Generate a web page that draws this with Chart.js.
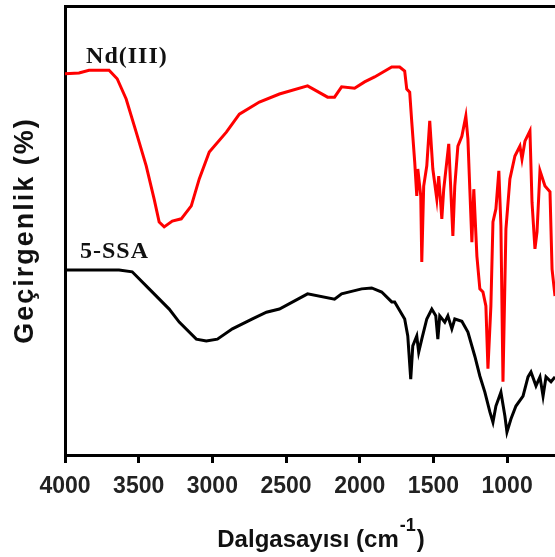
<!DOCTYPE html>
<html lang="tr">
<head>
<meta charset="UTF-8">
<title>FTIR - Nd(III) / 5-SSA</title>
<script src="https://cdn.jsdelivr.net/npm/chart.js"></script>
<style>
  body { margin: 0; background: #fff; }
  #wrap { width: 555px; height: 557px; }
</style>
</head>
<body>
<div id="wrap"><canvas id="ir-chart"></canvas></div>
<script>
// tick labels on the wavenumber axis
const xTicks = [4000, 3500, 3000, 2500, 2000, 1500, 1000];
const seriesNames = ['Nd(III)', '5-SSA'];

// Nd(III) complex - wavenumber (cm-1) and transmittance (arbitrary %)
const ndWave = [4000, 3905, 3837, 3701, 3646, 3585, 3517, 3449, 3395, 3361, 3327, 3272, 3211, 3143, 3089, 3021,
  2905, 2817, 2681, 2545, 2354, 2218, 2171, 2123, 2035, 1967, 1899, 1783, 1729, 1695, 1681, 1661, 1647, 1627,
  1613, 1606, 1586, 1579, 1566, 1545, 1525, 1504, 1477, 1464, 1443, 1430, 1396, 1368, 1355, 1334, 1307, 1280,
  1266, 1253, 1239, 1226, 1205, 1185, 1164, 1144, 1130, 1110, 1096, 1076, 1056, 1042, 1028, 1008, 981, 947,
  913, 899, 879, 845, 831, 811, 797, 777, 743, 709, 695, 675];
const ndTrans = [84.9, 85.1, 85.7, 85.7, 83.8, 79.3, 71.9, 64.4, 57.0, 51.9, 50.8, 52.1, 52.6, 55.5, 61.5, 67.5,
  71.9, 75.9, 78.6, 80.4, 82.2, 79.7, 79.7, 82.0, 81.7, 83.1, 84.2, 86.4, 86.4, 85.5, 81.5, 80.8, 74.2, 65.3,
  57.7, 63.7, 57.7, 43.0, 59.9, 64.4, 74.4, 63.7, 57.0, 62.1, 52.6, 59.2, 69.3, 48.8, 59.9, 68.8, 71.0, 75.5,
  70.4, 59.2, 47.4, 59.2, 44.3, 37.0, 36.3, 33.2, 19.2, 33.2, 51.9, 54.8, 63.3, 51.0, 16.3, 50.3, 61.5, 66.6,
  68.8, 65.9, 69.9, 72.2, 56.3, 45.9, 49.7, 63.3, 59.9, 58.6, 41.4, 35.4];

// 5-SSA ligand
const ssaWave = [4000, 3633, 3544, 3429, 3293, 3225, 3109, 3041, 2966, 2864, 2728, 2633, 2545, 2354, 2171, 2123,
  1987, 1919, 1851, 1783, 1763, 1695, 1674, 1654, 1640, 1613, 1600, 1579, 1545, 1511, 1484, 1470, 1457, 1423,
  1402, 1375, 1355, 1307, 1266, 1219, 1185, 1151, 1117, 1096, 1076, 1042, 1015, 1001, 974, 940, 892, 858, 838,
  804, 777, 756, 736, 702, 675];
const ssaTrans = [41.2, 41.2, 40.8, 37.0, 32.5, 29.6, 25.8, 25.4, 25.8, 28.1, 30.3, 31.8, 32.5, 35.9, 34.7, 35.9,
  37.0, 37.2, 36.3, 34.1, 34.1, 30.3, 26.5, 16.9, 24.3, 26.5, 22.9, 25.8, 30.3, 32.5, 31.0, 25.8, 31.0, 29.6,
  31.0, 28.1, 30.3, 29.8, 27.4, 22.0, 17.6, 14.0, 9.6, 7.3, 10.9, 14.0, 8.7, 5.1, 8.0, 10.9, 13.1, 17.4, 18.5,
  15.4, 17.4, 13.1, 17.4, 16.3, 17.4];

const sansFont = '"Liberation Sans", Arial, sans-serif';
const serifFont = '"Liberation Serif", "Times New Roman", serif';

const toPoints = (xs, ys) => xs.map((x, i) => ({ x: x, y: ys[i] }));

// axis titles and curve labels drawn by hand (superscript + letter spacing)
const textPlugin = {
  id: 'irTexts',
  afterDraw(chart) {
    const ctx = chart.ctx;
    const xs = chart.scales.x;
    const ys = chart.scales.y;
    const area = chart.chartArea;
    ctx.save();
    ctx.fillStyle = '#111';
    ctx.textAlign = 'left';
    ctx.textBaseline = 'alphabetic';

    // curve labels
    ctx.font = 'bold 24px ' + serifFont;
    ctx.letterSpacing = '1px';
    ctx.fillText(seriesNames[0], xs.getPixelForValue(3857), ys.getPixelForValue(87.4));
    ctx.fillText(seriesNames[1], xs.getPixelForValue(3898), ys.getPixelForValue(43.9));

    // y title
    ctx.save();
    ctx.translate(33, (area.top + area.bottom) / 2);
    ctx.rotate(-Math.PI / 2);
    ctx.font = 'bold 27px ' + sansFont;
    ctx.letterSpacing = '2px';
    ctx.textAlign = 'center';
    ctx.fillText('Geçirgenlik (%)', 0, 0);
    ctx.restore();

    // x title with superscript -1
    ctx.letterSpacing = '0px';
    const main = 'Dalgasayısı (cm';
    const sup = '-1';
    const close = ')';
    ctx.font = 'bold 24px ' + sansFont;
    const wMain = ctx.measureText(main).width;
    const wClose = ctx.measureText(close).width;
    ctx.font = 'bold 18px ' + sansFont;
    const wSup = ctx.measureText(sup).width;
    let x = 320 - (wMain + wSup + wClose) / 2;
    const base = 547;
    ctx.font = 'bold 24px ' + sansFont;
    ctx.fillText(main, x, base);
    x += wMain + 1;
    ctx.font = 'bold 18px ' + sansFont;
    ctx.fillText(sup, x, base - 16);
    x += wSup + 1;
    ctx.font = 'bold 24px ' + sansFont;
    ctx.fillText(close, x, base);
    ctx.restore();
  }
};

const ctx = document.getElementById('ir-chart').getContext('2d');
const irChart = new Chart(ctx, {
  type: 'line',
  data: {
    datasets: [
      {
        label: seriesNames[0],
        data: toPoints(ndWave, ndTrans),
        borderColor: '#ff0000',
        borderWidth: 3,
        pointRadius: 0,
        tension: 0
      },
      {
        label: seriesNames[1],
        data: toPoints(ssaWave, ssaTrans),
        borderColor: '#000000',
        borderWidth: 3,
        pointRadius: 0,
        tension: 0
      }
    ]
  },
  options: {
    responsive: true,
    maintainAspectRatio: false,
    animation: false,
    layout: { padding: 0 },
    plugins: {
      legend: { display: false },
      tooltip: { enabled: false }
    },
    scales: {
      x: {
        type: 'linear',
        position: 'bottom',
        reverse: true,
        min: 675,
        max: 4000,
        afterBuildTicks: (scale) => { scale.ticks = xTicks.map(v => ({ value: v })); },
        afterFit: (scale) => { scale.height = 102; },
        ticks: {
          autoSkip: false,
          maxRotation: 0,
          padding: 10,
          color: '#222',
          font: { family: sansFont, size: 23, weight: 'bold' },
          callback: (value) => String(value)
        },
        grid: { display: true, drawOnChartArea: false, tickLength: 8, tickWidth: 3, tickColor: '#000' },
        border: { display: true, color: '#000', width: 3 }
      },
      x2: {
        type: 'linear',
        position: 'top',
        reverse: true,
        min: 675,
        max: 4000,
        afterFit: (scale) => { scale.height = 6; },
        ticks: { display: false },
        grid: { display: false },
        border: { display: true, color: '#000', width: 3 }
      },
      y: {
        type: 'linear',
        min: 0,
        max: 100,
        afterFit: (scale) => { scale.width = 65; },
        ticks: { display: false },
        grid: { display: false },
        border: { display: true, color: '#000', width: 3 }
      }
    }
  },
  plugins: [textPlugin]
});
</script>
</body>
</html>
